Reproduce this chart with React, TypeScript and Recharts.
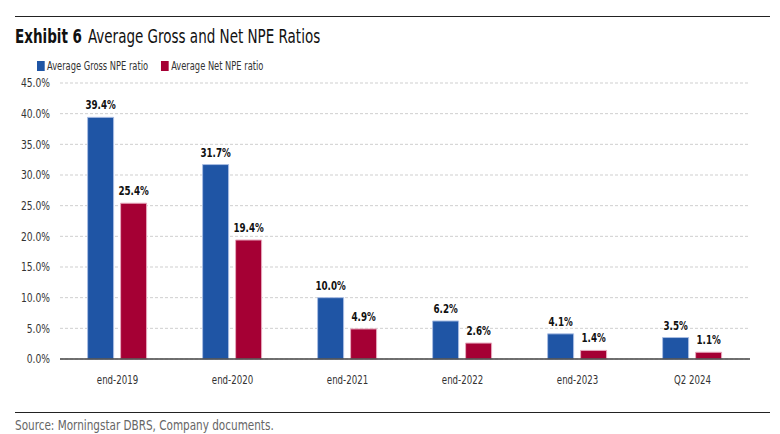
import { BarChart, Bar, XAxis, YAxis, CartesianGrid, LabelList } from "recharts";

const categories = ["end-2019", "end-2020", "end-2021", "end-2022", "end-2023", "Q2 2024"];
const grossNpe = [39.4, 31.7, 10.0, 6.2, 4.1, 3.5];
const netNpe = [25.4, 19.4, 4.9, 2.6, 1.4, 1.1];
const yTicks = [0, 5, 10, 15, 20, 25, 30, 35, 40, 45];

const FONT = '"DejaVu Sans Condensed", "Liberation Sans Narrow", sans-serif';
const BLUE = "#1F55A5";
const RED = "#A50034";

const data = categories.map((c, i) => ({ name: c, gross: grossNpe[i], net: netNpe[i] }));

const pct = (v: any) => `${Number(v).toFixed(1)}%`;

// the reference uses a condensed face, so squeeze the svg text a bit
const XTick = ({ x, y, payload }: any) => (
  <g transform={`translate(${x},${y}) scale(0.8,1)`}>
    <text textAnchor="middle" dy="0.71em" fill="#333" fontSize={12} fontFamily={FONT}>
      {payload.value}
    </text>
  </g>
);

const YTick = ({ x, y, payload }: any) => (
  <g transform={`translate(${x},${y}) scale(0.85,1)`}>
    <text textAnchor="end" dy="0.355em" fill="#333" fontSize={12} fontFamily={FONT}>
      {pct(payload.value)}
    </text>
  </g>
);

const BarLabel = ({ x, y, width, value }: any) => (
  <g transform={`translate(${x + width / 2},${y - 8}) scale(0.78,1)`}>
    <text textAnchor="middle" fill="#111" fontSize={12.5} fontWeight={700} fontFamily={FONT}>
      {pct(value)}
    </text>
  </g>
);

const squeeze = (s: number): any => ({ display: "inline-block", transform: `scaleX(${s})`, transformOrigin: "left center", whiteSpace: "nowrap" });

export default function App() {
  return (
    <div style={{ position: "absolute", left: 0, top: 0, width: 780, height: 434, background: "#fff", fontFamily: FONT }}>
      <div style={{ position: "absolute", left: 15, right: 10, top: 16, borderTop: "1.5px solid #222" }} />
      <div style={{ position: "absolute", left: 15, top: 24, fontSize: 20, color: "#111", ...squeeze(0.75) }}>
        <span style={{ fontWeight: 700 }}>Exhibit 6</span>
        <span style={{ marginLeft: 8 }}>Average Gross and Net NPE Ratios</span>
      </div>
      <div style={{ position: "absolute", left: 37, top: 59, fontSize: 12, color: "#333", ...squeeze(0.77), display: "flex", alignItems: "center" }}>
        <span style={{ width: 10, height: 10, background: BLUE, display: "inline-block", marginRight: 3 }} />
        <span>Average Gross NPE ratio</span>
        <span style={{ width: 10, height: 10, background: RED, display: "inline-block", marginLeft: 17, marginRight: 3 }} />
        <span>Average Net NPE ratio</span>
      </div>
      <div style={{ position: "absolute", left: 0, top: 0 }}>
        <BarChart
          width={780}
          height={434}
          data={data}
          margin={{ top: 83, right: 30, bottom: 45, left: 0 }}
          barCategoryGap="24%"
          barGap={7}
        >
          <CartesianGrid vertical={false} stroke="#cfcfcf" strokeDasharray="3 2" />
          <XAxis
            dataKey="name"
            height={30}
            tickLine={false}
            axisLine={{ stroke: "#444", strokeWidth: 1.5 }}
            tick={<XTick />}
            tickMargin={10}
          />
          <YAxis
            width={60}
            domain={[0, 45]}
            ticks={yTicks}
            axisLine={false}
            tickLine={false}
            tickSize={0}
            tickMargin={10}
            tick={<YTick />}
          />
          <Bar dataKey="gross" fill={BLUE} stroke="#a9bde3" strokeWidth={1} isAnimationActive={false}>
            <LabelList dataKey="gross" content={<BarLabel />} />
          </Bar>
          <Bar dataKey="net" fill={RED} stroke="#e6a9bd" strokeWidth={1} isAnimationActive={false}>
            <LabelList dataKey="net" content={<BarLabel />} />
          </Bar>
        </BarChart>
      </div>
      <div style={{ position: "absolute", left: 15, right: 10, top: 412, borderTop: "1.5px solid #222" }} />
      <div style={{ position: "absolute", left: 15, top: 417, fontSize: 13.5, color: "#666", ...squeeze(0.86) }}>
        Source: Morningstar DBRS, Company documents.
      </div>
    </div>
  );
}
